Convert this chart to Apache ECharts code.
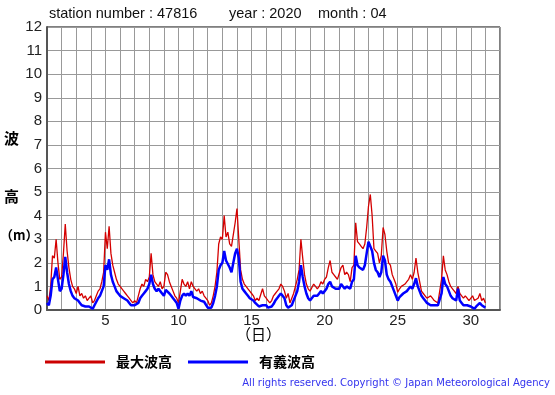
<!DOCTYPE html>
<html><head><meta charset="utf-8">
<script src="https://cdn.jsdelivr.net/npm/echarts@6/dist/echarts.min.js"></script>
<style>html,body{margin:0;padding:0;background:#fff}#c{width:555px;height:395px}</style>
</head><body><div id="c"></div>
<script>
// 3-hourly readings starting at day 1, 00h
const startDay = 1;
const stepDays = 0.125;
const maxWave = [
 0.6,0.4,1.0,2.3,2.2,3.0,2.0,1.3,
 1.4,2.4,3.65,2.5,1.8,1.3,1.0,0.9,
 0.7,1.0,0.6,0.7,0.5,0.6,0.4,0.5,
 0.6,0.3,0.4,0.6,0.8,0.9,1.2,1.6,
 3.3,2.6,3.55,2.4,1.9,1.6,1.3,1.1,
 1.0,1.0,0.8,0.7,0.6,0.5,0.4,0.3,
 0.4,0.3,0.6,0.9,1.1,1.0,1.3,1.2,
 1.4,2.4,1.5,1.2,1.1,1.0,1.2,0.9,
 1.0,1.6,1.5,1.2,1.0,0.8,0.6,0.5,
 0.3,0.8,1.3,1.1,1.0,1.2,0.9,1.2,
 1.0,0.9,0.8,0.9,0.7,0.8,0.6,0.5,
 0.4,0.2,0.3,0.6,1.0,1.6,2.8,3.1,
 3.0,4.0,3.1,3.3,2.8,2.7,3.2,3.7,
 4.3,3.0,1.7,1.3,1.1,1.0,0.9,0.8,
 0.7,0.6,0.4,0.5,0.4,0.4,0.9,0.6,
 0.5,0.4,0.3,0.4,0.6,0.7,0.8,0.9,
 1.1,1.0,0.8,0.5,0.7,0.3,0.5,0.7,
 1.0,1.3,1.7,3.0,2.2,1.5,1.1,0.9,
 0.8,0.8,1.1,1.0,0.9,1.0,1.2,1.1,
 1.3,1.4,1.8,2.1,1.6,1.5,1.4,1.3,
 1.3,1.8,1.9,1.5,1.6,1.5,1.2,1.8,
 1.9,3.7,2.9,2.8,2.7,2.6,2.8,3.5,
 4.4,4.9,4.0,2.6,2.5,2.4,2.0,2.3,
 3.5,3.2,2.5,2.0,1.9,1.5,1.3,1.1,
 0.75,0.9,1.0,1.0,1.1,1.2,1.3,1.5,
 1.3,1.6,2.2,1.6,1.2,0.8,0.7,0.6,
 0.5,0.5,0.6,0.5,0.4,0.4,0.3,0.3,
 1.3,2.3,1.7,1.5,1.2,1.0,0.9,0.8,
 0.7,1.0,0.7,0.6,0.5,0.6,0.5,0.4,
 0.4,0.6,0.4,0.4,0.5,0.7,0.4,0.5,
 0.3
];
const sigWave = [
 0.3,0.2,0.6,1.3,1.4,1.8,1.3,0.8,
 0.9,1.5,2.25,1.6,1.1,0.8,0.6,0.5,
 0.45,0.4,0.3,0.2,0.2,0.15,0.1,0.15,
 0.1,0.05,0.2,0.35,0.5,0.6,0.8,1.0,
 1.9,1.7,2.15,1.5,1.2,1.0,0.8,0.7,
 0.6,0.55,0.5,0.45,0.4,0.3,0.2,0.2,
 0.2,0.15,0.3,0.5,0.6,0.7,0.8,0.9,
 1.1,1.5,1.1,0.9,0.8,0.9,0.8,0.7,
 0.6,0.85,0.8,0.7,0.6,0.5,0.4,0.3,
 0.05,0.4,0.6,0.7,0.6,0.7,0.6,0.8,
 0.55,0.5,0.5,0.45,0.4,0.4,0.35,0.3,
 0.1,0.05,0.1,0.3,0.6,1.0,1.7,1.9,
 2.0,2.5,2.1,2.1,1.8,1.6,2.0,2.4,
 2.6,2.2,1.2,0.9,0.8,0.7,0.6,0.5,
 0.45,0.4,0.3,0.25,0.15,0.1,0.2,0.2,
 0.2,0.1,0.05,0.15,0.25,0.4,0.5,0.6,
 0.7,0.6,0.5,0.2,0.1,0.1,0.2,0.4,
 0.6,0.8,1.2,1.9,1.4,1.0,0.7,0.5,
 0.4,0.45,0.6,0.6,0.6,0.7,0.8,0.7,
 0.8,0.9,1.1,1.2,1.0,0.95,0.9,0.85,
 0.9,1.1,1.1,0.9,1.0,1.0,0.9,1.2,
 1.3,2.3,1.9,1.8,1.8,1.7,1.9,2.4,
 2.9,2.9,2.5,2.0,1.7,1.6,1.4,1.6,
 2.3,2.1,1.5,1.3,1.2,1.0,0.8,0.6,
 0.4,0.55,0.6,0.7,0.75,0.8,0.9,1.0,
 0.9,1.1,1.35,1.0,0.8,0.6,0.5,0.4,
 0.3,0.3,0.2,0.2,0.2,0.2,0.2,0.15,
 0.7,1.4,1.1,1.0,0.8,0.6,0.5,0.45,
 0.4,0.9,0.4,0.3,0.2,0.25,0.2,0.15,
 0.15,0.2,0.05,0.15,0.2,0.3,0.2,0.2,
 0.1
];
const seriesNames = ['最大波高', '有義波高'];
const xTickLabels = [5, 10, 15, 20, 25, 30];
const titleParts = ['station number : 47816', 'year : 2020', 'month : 04'];

const toPairs = arr => arr.map((v, i) => [startDay + i * stepDays, v]);
const ff = '"Liberation Sans", Arial, sans-serif';
const jf = '"Noto Sans CJK JP", sans-serif';

const chart = echarts.init(document.getElementById('c'), null, {renderer: 'canvas'});
chart.setOption({
  animation: false,
  backgroundColor: '#fff',
  grid: {left: 47, top: 27, width: 453, height: 283, show: true, borderColor: '#000', borderWidth: 1, backgroundColor: 'transparent'},
  xAxis: {
    type: 'value', min: 1, max: 32, interval: 1,
    axisLine: {show: true, onZero: false, lineStyle: {color: '#555', width: 2}},
    axisTick: {show: false},
    splitLine: {show: true, lineStyle: {color: '#999', width: 1}},
    axisLabel: {
      fontFamily: ff, fontSize: 15, color: '#222', margin: 3,
      formatter: v => xTickLabels.indexOf(v) >= 0 ? String(v) : ''
    }
  },
  yAxis: {
    type: 'value', min: 0, max: 12, interval: 1,
    axisLine: {show: true, lineStyle: {color: '#555', width: 2}},
    axisTick: {show: false},
    splitLine: {show: true, lineStyle: {color: '#999', width: 1}},
    axisLabel: {fontFamily: ff, fontSize: 15, color: '#222', margin: 5}
  },
  legend: {
    left: 45, top: 355, padding: 0, itemGap: 16,
    itemWidth: 60, itemHeight: 3, icon: 'rect',
    textStyle: {fontFamily: jf, fontSize: 14, fontWeight: 'bold', color: '#000', padding: [0, 0, 0, 6]},
    data: seriesNames
  },
  series: [
    {name: seriesNames[0], type: 'line', data: toPairs(maxWave), showSymbol: false,
     color: '#cc0000', lineStyle: {color: '#d40000', width: 1.3}},
    {name: seriesNames[1], type: 'line', data: toPairs(sigWave), showSymbol: false,
     color: '#0000ff', lineStyle: {color: '#0000ff', width: 2.5}}
  ],
  graphic: [
    {type: 'text', left: 49, top: 6, style: {text: titleParts[0], font: '14.5px ' + ff, fill: '#111'}},
    {type: 'text', left: 229, top: 6, style: {text: titleParts[1], font: '14.5px ' + ff, fill: '#111'}},
    {type: 'text', left: 318, top: 6, style: {text: titleParts[2], font: '14.5px ' + ff, fill: '#111'}},
    {type: 'text', left: 4, top: 131, style: {text: '波', font: 'bold 15px ' + jf, fill: '#000'}},
    {type: 'text', left: 4, top: 189, style: {text: '高', font: 'bold 15px ' + jf, fill: '#000'}},
    {type: 'text', left: 0, top: 229, style: {text: '（m）', font: 'bold 13px ' + jf, fill: '#000'}},
    {type: 'text', left: 236, top: 327, style: {text: '（日）', font: '15px ' + jf, fill: '#000'}},
    {type: 'text', right: 5, top: 378, style: {text: 'All rights reserved. Copyright © Japan Meteorological Agency', font: '10px "DejaVu Sans", sans-serif', fill: '#3333ee'}}
  ]
});
</script></body></html>
